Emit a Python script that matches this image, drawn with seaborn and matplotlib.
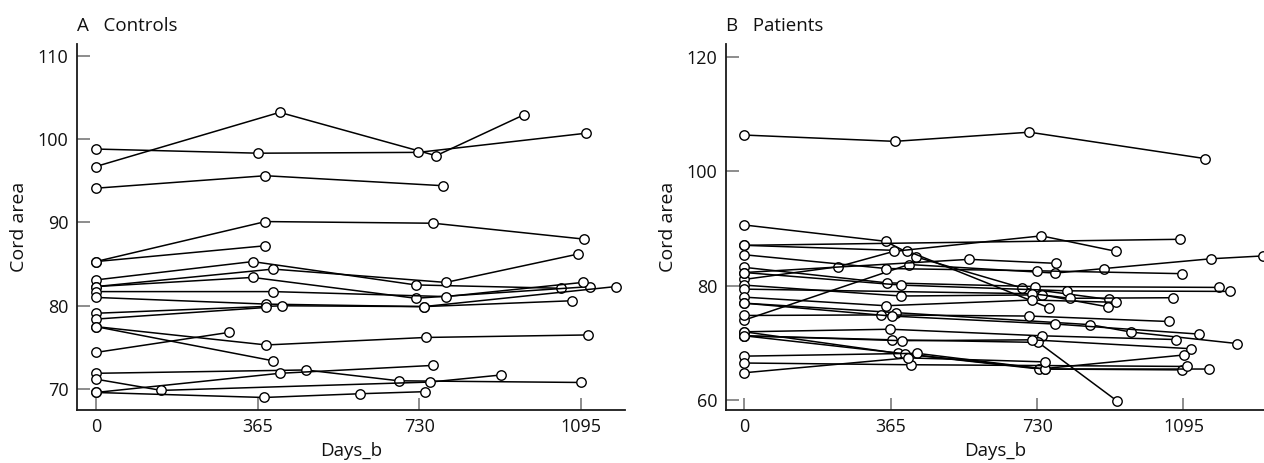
import numpy as np
import pandas as pd
from matplotlib import pyplot as plt
import seaborn as sns

# Controls: one list of days and one of cord area per subject
ctrl_days = [
    [0, 415, 768, 966],
    [0, 367, 728, 1107],
    [0, 383, 784],
    [0, 383, 762, 1101],
    [0, 383],
    [0, 354, 722, 1050],
    [0, 400, 790, 1088],
    [0, 354, 722, 1116],
    [0, 400, 790, 1099],
    [0, 385, 740, 1173],
    [0, 420, 740, 1074],
    [0, 385],
    [0, 385, 745, 1110],
    [0, 400],
    [0, 300],
    [0, 474, 684, 1096],
    [0, 415, 762],
    [0, 148, 755, 915],
    [0, 380, 597, 744],
]
ctrl_area = [
    [96.7, 103.2, 98.0, 102.9],
    [98.8, 98.3, 98.4, 100.7],
    [94.1, 95.6, 94.4],
    [85.3, 90.1, 89.9, 88.0],
    [85.3, 87.2],
    [83.1, 85.3, 82.5, 82.1],
    [82.3, 84.4, 82.8, 86.2],
    [82.3, 83.4, 80.9, 82.3],
    [81.7, 81.7, 81.1, 82.8],
    [81.0, 80.2, 79.9, 82.3],
    [79.1, 80.0, 79.9, 80.6],
    [78.4, 79.8],
    [77.5, 75.3, 76.2, 76.5],
    [77.5, 73.4],
    [74.4, 76.8],
    [71.9, 72.3, 71.0, 70.8],
    [69.6, 71.9, 72.85],
    [71.2, 69.85, 70.85, 71.7],
    [69.6, 69.0, 69.45, 69.7],
]

# Patients
pat_days = [
    [0, 375, 711, 1148],
    [0, 352, 429, 693, 909],
    [0, 1086],
    [0, 405, 761],
    [0, 233, 373, 741, 927],
    [0, 410, 775, 898, 1164, 1294],
    [0, 353, 730, 1091],
    [0, 355, 725, 1183],
    [0, 391, 805, 1212],
    [0, 391, 743, 907],
    [0, 718, 812, 1070],
    [0, 353, 718, 927],
    [0, 377, 862, 965, 1229],
    [0, 341, 711, 1058],
    [0, 367, 775, 1134],
    [0, 363, 743, 1076],
    [0, 369, 733, 929],
    [0, 393, 718, 1113],
    [0, 383, 736, 1096],
    [0, 401, 749, 1092],
    [0, 430, 749, 1159],
    [0, 415, 1104],
    [0, 407, 749],
    [0, 561, 777],
]
pat_area = [
    [106.3, 105.2, 106.8, 102.2],
    [90.6, 87.75, 85.0, 79.6, 77.6],
    [87.05, 88.1],
    [87.05, 86.1, 76.1],
    [81.1, 83.3, 86.0, 88.7, 86.0],
    [74.0, 83.7, 82.2, 83.0, 84.7, 85.2],
    [85.4, 83.0, 82.6, 82.1],
    [83.2, 80.5, 79.85, 79.7],
    [82.3, 80.1, 79.1, 79.0],
    [80.1, 78.2, 78.4, 76.3],
    [79.4, 78.6, 77.8, 77.9],
    [78.0, 76.5, 77.5, 77.1],
    [76.95, 75.3, 73.2, 71.9, 69.9],
    [74.8, 74.9, 74.7, 73.75],
    [76.95, 74.7, 73.3, 71.55],
    [71.95, 72.4, 71.25, 70.6],
    [71.25, 70.55, 70.1, 59.9],
    [71.25, 70.4, 70.55, 69.0],
    [71.95, 68.2, 65.45, 67.9],
    [71.25, 68.1, 65.45, 65.3],
    [67.7, 68.2, 65.45, 65.45],
    [66.5, 66.2, 65.9],
    [64.8, 67.4, 66.7],
    [82.3, 84.6, 83.9],
]

day_ticks = [0, 365, 730, 1095]


def to_long(days, area):
    rows = []
    for i, (d, a) in enumerate(zip(days, area)):
        for x, y in zip(d, a):
            rows.append({'subject': i, 'Days_b': x, 'Cord area': y})
    return pd.DataFrame(rows)


def spaghetti(ax, df, title, ylim, yticks, xlim):
    sns.lineplot(data=df, x='Days_b', y='Cord area', units='subject', estimator=None,
                 sort=False, color='black', lw=1.1, marker='o', markersize=6.8,
                 markerfacecolor='white', markeredgecolor='black', markeredgewidth=1.0,
                 ax=ax, legend=False)
    ax.set_xlim(*xlim)
    ax.set_ylim(*ylim)
    ax.set_xticks(day_ticks)
    ax.set_yticks(yticks)
    sns.despine(ax=ax)
    for s in ['left', 'bottom']:
        ax.spines[s].set_linewidth(1.3)
        ax.spines[s].set_color('#1a1a1a')
    # seaborn's white style hides ticks; bring them back, pointing inwards
    ax.tick_params(bottom=True, left=True, direction='in', length=9, width=1.1,
                   color='#6e6e6e', labelcolor='#111111', labelsize=13, pad=6)
    ax.set_title(title, loc='left', fontsize=13.5, pad=9, color='#111111')
    ax.set_xlabel('Days_b', fontsize=13.5, labelpad=4, color='#111111')
    ax.set_ylabel('Cord area', fontsize=14, labelpad=7, color='#111111')


sns.set_style('white')
plt.rcParams['font.family'] = ['Open Sans', 'DejaVu Sans']

fig = plt.figure(figsize=(12.64, 4.63), dpi=100)
ax1 = fig.add_axes([0.0607, 0.1145, 0.434, 0.7905])
ax2 = fig.add_axes([0.574, 0.1145, 0.426, 0.7905])

spaghetti(ax1, to_long(ctrl_days, ctrl_area), 'A   Controls',
          (67.5, 111.4), [70, 80, 90, 100, 110], (-43, 1195))
spaghetti(ax2, to_long(pat_days, pat_area), 'B   Patients',
          (58.3, 122.2), [60, 80, 100, 120], (-47, 1296))

fig.savefig('out.png', dpi=100)
